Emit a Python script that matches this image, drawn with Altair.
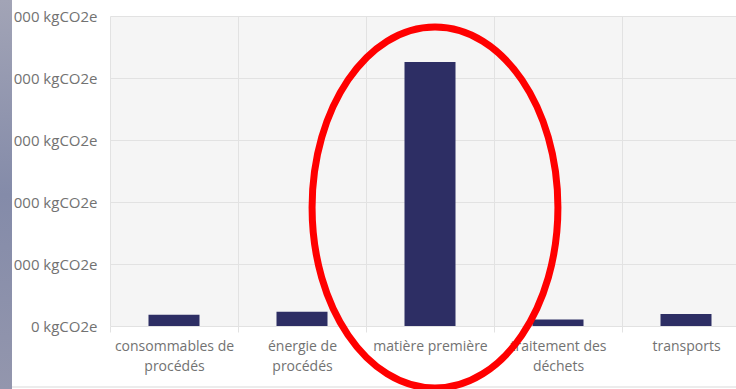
import altair as alt
import pandas as pd

# Emissions by life-cycle stage (kgCO2e)
categories = [
    "consommables de\nprocédés",
    "énergie de\nprocédés",
    "matière première",
    "traitement des\ndéchets",
    "transports",
]
emissions = [180, 230, 4260, 105, 195]
y_ticks = [0, 1000, 2000, 3000, 4000, 5000]

df = pd.DataFrame({"etape": categories, "emissions": emissions})

GRID = "#e2e2e2"
LABEL = "#727272"
FONT = "Open Sans"

bars = alt.Chart(df).mark_bar(size=51, color="#2d2e64").encode(
    x=alt.X(
        "etape:N",
        sort=None,
        scale=alt.Scale(range=[0, 640], paddingInner=0, paddingOuter=0),
        axis=alt.Axis(
            title=None,
            labelAngle=0,
            labelExpr="split(datum.label, '\\n')",
            labelFont=FONT,
            labelFontSize=14,
            labelColor=LABEL,
            labelLineHeight=20,
            labelPadding=7,
            labelLimit=300,
            grid=True,
            gridColor=GRID,
            tickBand="extent",
            ticks=True,
            tickSize=6,
            tickColor=GRID,
            domain=False,
            zindex=0,
        ),
    ),
    y=alt.Y(
        "emissions:Q",
        scale=alt.Scale(domain=[0, 5000], nice=False),
        axis=alt.Axis(
            title=None,
            values=y_ticks,
            labelExpr="replace(format(datum.value, ','), ',', ' ') + ' kgCO2e'",
            labelFont=FONT,
            labelFontSize=15,
            labelColor=LABEL,
            labelPadding=13,
            grid=True,
            gridColor=GRID,
            ticks=False,
            domain=False,
            zindex=0,
        ),
    ),
)

# Red ellipse highlighting the raw-material bar
ellipse_path = (
    "M0,-1C0.376,-1,0.681,-0.552,0.681,0C0.681,0.552,0.376,1,0,1"
    "C-0.376,1,-0.681,0.552,-0.681,0C-0.681,-0.552,-0.376,-1,0,-1Z"
)
highlight = alt.Chart(alt.Data(values=[{"k": 1}])).mark_point(
    shape=ellipse_path,
    filled=False,
    stroke="#ff0000",
    strokeWidth=7,
    size=130321,
    opacity=1,
).encode(x=alt.value(325), y=alt.value(191.5))

# Slide edge on the left
edge = alt.Chart(alt.Data(values=[{"k": 1}])).mark_rect(
    color=alt.Gradient(
        gradient="linear",
        stops=[
            alt.GradientStop(color="#a2a4b6", offset=0),
            alt.GradientStop(color="#848ba9", offset=0.5),
            alt.GradientStop(color="#9396ad", offset=1),
        ],
        x1=0, x2=0, y1=0, y2=1,
    )
).encode(
    x=alt.value(-110), x2=alt.value(-98), y=alt.value(-16), y2=alt.value(373)
)

bottom_line = alt.Chart(alt.Data(values=[{"k": 1}])).mark_rule(
    color="#d9d9d9", strokeWidth=1
).encode(x=alt.value(-98), x2=alt.value(626), y=alt.value(371))

chart = (
    alt.layer(bars, bottom_line, highlight, edge)
    .properties(
        width=626,
        height=310,
        autosize=alt.AutoSizeParams(type="none"),
        padding={"left": 110, "top": 16, "right": 0, "bottom": 63},
        background="white",
    )
    .configure_view(fill="#f5f5f5", strokeOpacity=0)
)

chart.save("out.html", embed_options={"renderer": "svg", "actions": False})
